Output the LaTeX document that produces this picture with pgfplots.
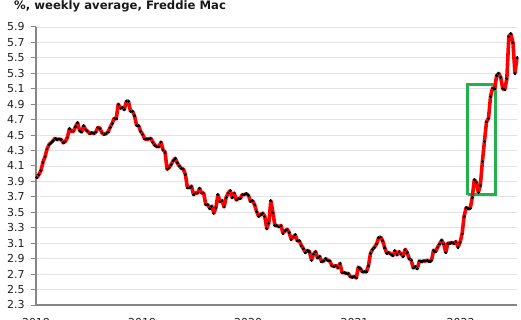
\documentclass[border=0pt]{standalone}
\usepackage{pgfplots}
\pgfplotsset{compat=1.18}
\usepackage{pgfplotstable}
\usepackage{fontspec}
\setmainfont{DejaVu Sans}
\definecolor{gridc}{RGB}{226,226,233}
\definecolor{axc}{RGB}{134,134,134}
\definecolor{boxg}{RGB}{34,177,76}
\pgfplotstableread{
w y
0 3.95
1 3.99
2 4.04
3 4.15
4 4.22
5 4.32
6 4.38
7 4.40
8 4.43
9 4.46
10 4.44
11 4.45
12 4.44
13 4.40
14 4.42
15 4.47
16 4.58
17 4.55
18 4.55
19 4.61
20 4.66
21 4.56
22 4.54
23 4.62
24 4.57
25 4.55
26 4.52
27 4.53
28 4.52
29 4.54
30 4.60
31 4.59
32 4.53
33 4.51
34 4.52
35 4.54
36 4.60
37 4.65
38 4.72
39 4.71
40 4.90
41 4.85
42 4.86
43 4.83
44 4.94
45 4.94
46 4.81
47 4.81
48 4.75
49 4.63
50 4.62
51 4.55
52 4.51
53 4.45
54 4.45
55 4.45
56 4.46
57 4.41
58 4.37
59 4.35
60 4.35
61 4.41
62 4.31
63 4.28
64 4.06
65 4.08
66 4.12
67 4.17
68 4.20
69 4.14
70 4.10
71 4.07
72 4.06
73 3.99
74 3.82
75 3.82
76 3.84
77 3.73
78 3.75
79 3.75
80 3.81
81 3.75
82 3.75
83 3.60
84 3.60
85 3.55
86 3.58
87 3.49
88 3.56
89 3.73
90 3.64
91 3.65
92 3.57
93 3.69
94 3.75
95 3.78
96 3.69
97 3.75
98 3.66
99 3.68
100 3.68
101 3.73
102 3.73
103 3.74
104 3.72
105 3.64
106 3.65
107 3.60
108 3.51
109 3.45
110 3.47
111 3.49
112 3.45
113 3.29
114 3.36
115 3.65
116 3.50
117 3.33
118 3.33
119 3.31
120 3.33
121 3.23
122 3.26
123 3.28
124 3.24
125 3.15
126 3.18
127 3.21
128 3.13
129 3.13
130 3.07
131 3.03
132 2.98
133 3.01
134 2.99
135 2.88
136 2.96
137 2.99
138 2.91
139 2.93
140 2.86
141 2.87
142 2.90
143 2.88
144 2.87
145 2.81
146 2.80
147 2.81
148 2.78
149 2.84
150 2.72
151 2.72
152 2.71
153 2.71
154 2.67
155 2.66
156 2.67
157 2.65
158 2.79
159 2.77
160 2.73
161 2.73
162 2.73
163 2.81
164 2.97
165 3.02
166 3.05
167 3.09
168 3.17
169 3.18
170 3.13
171 3.04
172 2.97
173 2.98
174 2.96
175 2.94
176 3.00
177 2.95
178 2.99
179 2.96
180 2.93
181 3.02
182 2.98
183 2.90
184 2.88
185 2.78
186 2.80
187 2.77
188 2.87
189 2.86
190 2.87
191 2.87
192 2.88
193 2.86
194 2.88
195 3.01
196 2.99
197 3.05
198 3.09
199 3.14
200 3.09
201 2.98
202 3.10
203 3.10
204 3.11
205 3.10
206 3.12
207 3.05
208 3.11
209 3.22
210 3.45
211 3.56
212 3.55
213 3.55
214 3.69
215 3.92
216 3.89
217 3.76
218 3.85
219 4.16
220 4.42
221 4.67
222 4.72
223 5.00
224 5.11
225 5.10
226 5.27
227 5.30
228 5.25
229 5.10
230 5.09
231 5.23
232 5.78
233 5.81
234 5.70
235 5.30
236 5.51
}\rates
\pgfplotstableread{
w y
211.9 3.73
225.5 3.73
225.5 5.15
211.9 5.15
211.9 3.73
}\greenbox
\begin{document}
\begin{tikzpicture}
\begin{axis}[
  at={(36bp,15bp)}, anchor=south west,
  scale only axis, width=481bp, height=278bp,
  xmin=-0.43, xmax=236, ymin=2.3, ymax=5.9,
  axis x line*=bottom, axis y line*=left,
  axis line style={-, draw=axc, line width=1.1bp},
  ymajorgrids, grid style={draw=gridc, line width=0.9bp},
  ytick={2.3,2.5,2.7,2.9,3.1,3.3,3.5,3.7,3.9,4.1,4.3,4.5,4.7,4.9,5.1,5.3,5.5,5.7,5.9},
  xtick={-0.43,51.71,103.86,156.14,208.29},
  xticklabels={2018,2019,2020,2021,2022},
  tick align=outside,
  y tick style={draw=axc, line width=1bp},
  major tick length=5bp,
  x tick style={draw=none},
  /pgf/number format/.cd, fixed, fixed zerofill, precision=1, assume math mode=true,
  /pgfplots/.cd,
  tick label style={font=\fontsize{11}{13}\selectfont, text=black!88},
  yticklabel style={xshift=-3bp},
  xticklabel style={yshift=-4.5bp},
  clip=false,
]
\addplot[draw=boxg, line width=3bp, line join=miter] table[x=w,y=y] {\greenbox};
\addplot[red, line width=3.6bp, line join=round, mark=*, mark size=0.95bp,
  mark options={solid, draw=black, fill=black, line width=0pt}] table[x=w,y=y] {\rates};
\end{axis}
\node[anchor=base west, inner sep=0pt, font=\bfseries\fontsize{11.7}{14}\selectfont, text=black!90] at (14bp,310.5bp) {\%, weekly average, Freddie Mac};
\pgfresetboundingbox
\useasboundingbox (0,0) rectangle (521bp,320bp);
\end{tikzpicture}
\end{document}
